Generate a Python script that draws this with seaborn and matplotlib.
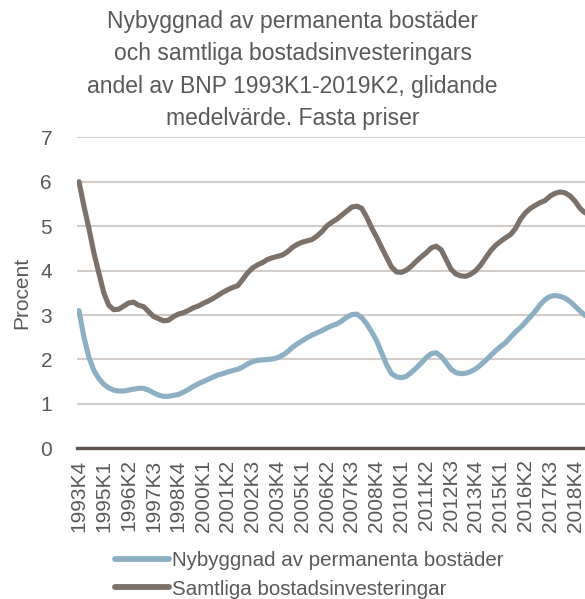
import matplotlib
matplotlib.use("Agg")
import matplotlib.pyplot as plt
from matplotlib.lines import Line2D
import seaborn as sns
import pandas as pd

# --- data -------------------------------------------------------------
start_year, start_q = 1993, 4
n_quarters = 103  # 1993K4 .. 2019K2
quarters = []
y, q = start_year, start_q
for _ in range(n_quarters):
    quarters.append(f"{y}K{q}")
    q += 1
    if q > 4:
        q = 1
        y += 1

nybyggnad = [
    3.10, 2.50, 2.05, 1.75, 1.57, 1.44, 1.36, 1.31, 1.29, 1.29,
    1.31, 1.33, 1.35, 1.35, 1.31, 1.25, 1.20, 1.17, 1.17, 1.19,
    1.21, 1.26, 1.32, 1.39, 1.45, 1.50, 1.55, 1.60, 1.65, 1.68,
    1.72, 1.75, 1.78, 1.83, 1.90, 1.95, 1.98, 1.99, 2.00, 2.01,
    2.04, 2.09, 2.17, 2.27, 2.35, 2.42, 2.49, 2.55, 2.60, 2.65,
    2.71, 2.76, 2.80, 2.87, 2.95, 3.01, 3.02, 2.94, 2.80, 2.62,
    2.42, 2.15, 1.88, 1.68, 1.61, 1.59, 1.62, 1.71, 1.81, 1.92,
    2.04, 2.13, 2.15, 2.07, 1.93, 1.78, 1.70, 1.68, 1.69, 1.73,
    1.79, 1.88, 1.98, 2.09, 2.20, 2.29, 2.38, 2.50, 2.62, 2.72,
    2.84, 2.96, 3.09, 3.24, 3.35, 3.42, 3.44, 3.42, 3.38, 3.30,
    3.20, 3.09, 2.99,
]

samtliga = [
    6.00, 5.45, 4.95, 4.40, 3.95, 3.50, 3.22, 3.12, 3.13, 3.20,
    3.27, 3.29, 3.22, 3.19, 3.08, 2.97, 2.92, 2.87, 2.88, 2.96,
    3.02, 3.05, 3.10, 3.16, 3.20, 3.26, 3.31, 3.37, 3.44, 3.51,
    3.57, 3.62, 3.66, 3.80, 3.95, 4.06, 4.13, 4.18, 4.25, 4.29,
    4.32, 4.35, 4.42, 4.52, 4.59, 4.64, 4.67, 4.70, 4.78, 4.88,
    5.01, 5.09, 5.16, 5.25, 5.34, 5.43, 5.45, 5.40, 5.20, 4.96,
    4.75, 4.52, 4.30, 4.08, 3.97, 3.96, 4.01, 4.10, 4.21, 4.31,
    4.40, 4.51, 4.55, 4.47, 4.25, 4.03, 3.92, 3.88, 3.87, 3.92,
    4.00, 4.13, 4.29, 4.45, 4.57, 4.66, 4.74, 4.81, 4.95, 5.16,
    5.30, 5.40, 5.47, 5.53, 5.58, 5.68, 5.74, 5.77, 5.75, 5.68,
    5.56, 5.40, 5.30,
]

series_names = ["Nybyggnad av permanenta bostäder", "Samtliga bostadsinvesteringar"]
series_colors = ["#8DAFC3", "#7B7169"]
y_ticks = [0, 1, 2, 3, 4, 5, 6, 7]
title = ("Nybyggnad av permanenta bostäder\noch samtliga bostadsinvesteringars\n"
         "andel av BNP 1993K1-2019K2, glidande\nmedelvärde. Fasta priser")
y_label = "Procent"

# --- frame ------------------------------------------------------------
df = pd.DataFrame({
    "idx": list(range(n_quarters)) * 2,
    "kvartal": quarters * 2,
    "värde": nybyggnad + samtliga,
    "serie": [series_names[0]] * n_quarters + [series_names[1]] * n_quarters,
})

sns.set_style("white")
plt.rcParams["font.family"] = ["Liberation Sans", "DejaVu Sans"]
text_color = "#595959"

fig = plt.figure(figsize=(5.85, 5.99), dpi=100)
ax = fig.add_axes([77 / 585, 1 - 448.3 / 599, 1 - 77 / 585, (448.3 - 137.3) / 599])

sns.lineplot(data=df, x="idx", y="värde", hue="serie", palette=series_colors,
             hue_order=series_names, linewidth=3.7, ax=ax, legend=False)
for ln in ax.lines:
    ln.set_solid_capstyle("round")
    ln.set_solid_joinstyle("round")

ax.set_xlim(-0.4, 102.0)
ax.set_ylim(0, 7)
ax.set_yticks(y_ticks)
ax.set_yticklabels([str(t) for t in y_ticks])
tick_pos = list(range(0, n_quarters, 5))
ax.set_xticks(tick_pos)
ax.set_xticklabels([quarters[i] for i in tick_pos], rotation=90)
ax.grid(axis="y", color="#D2CDC8", linewidth=1.5)
ax.set_axisbelow(True)
for s in ["top", "right", "left"]:
    ax.spines[s].set_visible(False)
ax.spines["bottom"].set_color("#5C524B")
ax.spines["bottom"].set_linewidth(2.4)
ax.spines["bottom"].set_zorder(3)
ax.tick_params(axis="y", length=0, pad=18, labelsize=15, labelcolor=text_color)
ax.tick_params(axis="x", length=0, pad=8, labelsize=15, labelcolor=text_color)
ax.set_xlabel("")
ax.set_ylabel(y_label, fontsize=15, color=text_color)
ax.yaxis.set_label_coords((31 - 77) / 508, 0.5)

fig.text(0.5, 1 - 10 / 599, title, ha="center", va="top", fontsize=16.5,
         color=text_color, linespacing=1.52)

handles = [Line2D([0], [0], color=c, linewidth=4.2, solid_capstyle="round") for c in series_colors]
fig.legend(handles, series_names, loc="upper left", bbox_to_anchor=(105 / 585, 1 - 541 / 599),
           frameon=False, fontsize=14.8, handlelength=2.6, handletextpad=0.15,
           labelspacing=0.45, borderpad=0, labelcolor=text_color)

fig.savefig("out.png", dpi=100)
